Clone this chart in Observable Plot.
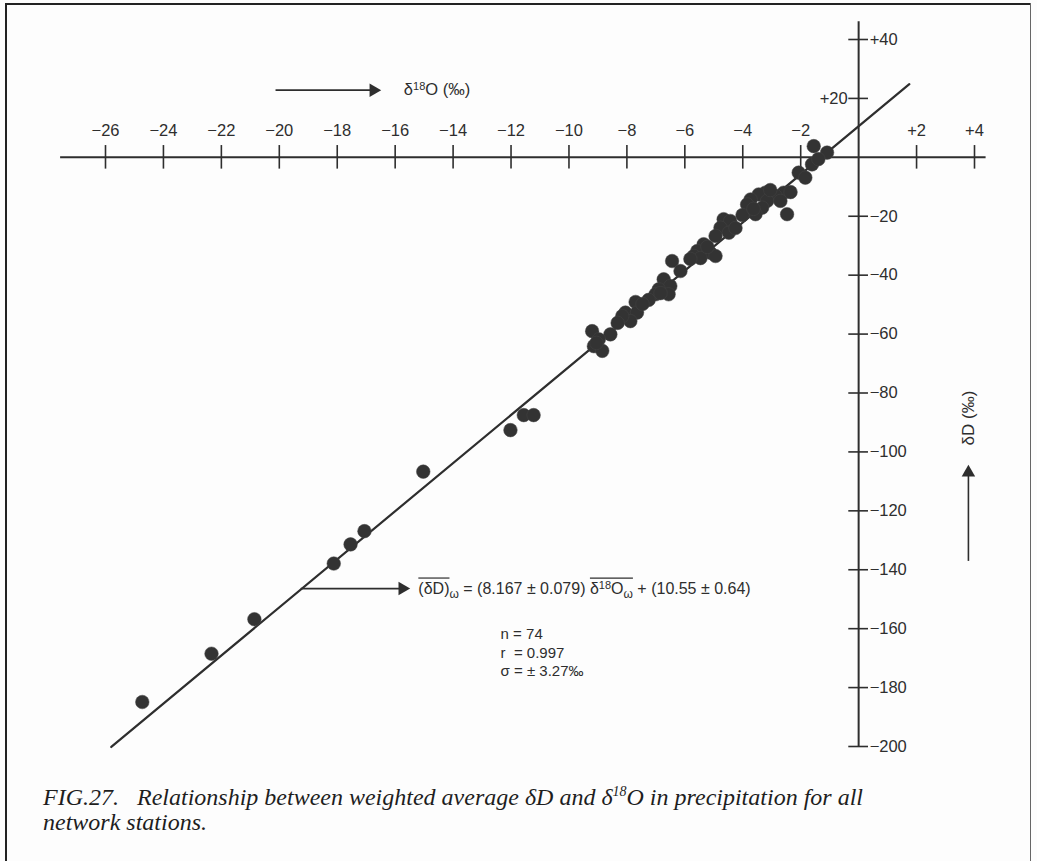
<!DOCTYPE html>
<html>
<head>
<meta charset="utf-8">
<script src="https://cdn.jsdelivr.net/npm/d3@7"></script>
<script src="https://cdn.jsdelivr.net/npm/@observablehq/plot@0.6"></script>
<style>
  html, body { margin: 0; padding: 0; background: #ffffff; }
  #page { position: relative; width: 1037px; height: 861px; overflow: hidden; background: #fdfdfd; }
  #chart { position: absolute; left: 0; top: 0; }
  .bT { position: absolute; left: 5px; top: 3px; width: 1026px; height: 2px; background: #222; }
  .bL { position: absolute; left: 5px; top: 3px; width: 2px; height: 858px; background: #222; }
  .bR { position: absolute; left: 1030px; top: 3px; width: 1px; height: 858px; background: #666; }
  #caption { position: absolute; left: 43px; top: 785px; width: 985px;
    font-family: "Liberation Serif", "DejaVu Serif", serif; font-style: italic;
    font-size: 24px; line-height: 25px; color: #1e1e1e; }
  #caption sup { font-size: 14px; line-height: 0; vertical-align: 9px; }
</style>
</head>
<body>
<div id="page">
  <div id="chart"></div>
  <div class="bT"></div><div class="bL"></div><div class="bR"></div>
  <div id="caption">FIG.27.&nbsp;&nbsp; Relationship between weighted average δD and δ<sup>18</sup>O in precipitation for all<br>network stations.</div>
</div>
<script>
// ---- Data ----
const d18O = [
  -1.55, -1.09, -1.61, -2.07, -1.84, -2.59, -3.22, -3.45, -2.87, -3.73,
  -3.16, -2.70, -3.85, -3.33, -3.56, -2.47, -4.01, -4.66, -4.43, -4.77,
  -4.48, -4.94, -5.35, -5.57, -5.12, -5.69, -4.94, -5.46, -6.44, -6.15,
  -6.73, -6.50, -6.90, -7.01, -6.56, -7.25, -7.70, -8.05, -7.65, -7.88,
  -8.16, -8.57, -9.20, -8.97, -9.14, -8.85,
  -3.05, -2.35, -3.63, -4.25, -5.22, -5.81, -6.84, -7.46, -8.32, -9.05, -1.39,
  -24.73, -22.34, -20.86, -18.12, -17.54, -17.06, -15.03, -12.02, -11.56, -11.22
];
const dD = [
  3.8, 1.6, -2.4, -5.2, -6.9, -12.0, -12.0, -12.6, -13.1, -14.3,
  -14.8, -14.8, -16.0, -17.1, -19.3, -19.3, -19.6, -21.0, -21.6, -23.9,
  -25.6, -26.7, -29.5, -31.8, -32.4, -33.5, -33.5, -34.2, -35.2, -38.6,
  -41.4, -43.7, -44.8, -46.5, -46.5, -48.4, -49.1, -52.7, -52.7, -55.6,
  -53.9, -60.1, -59.0, -61.8, -64.1, -65.7,
  -11.1, -11.8, -17.5, -24.0, -30.4, -34.5, -46.1, -49.8, -56.2, -63.0, -0.6,
  -184.9, -168.5, -156.8, -137.9, -131.4, -126.9, -106.7, -92.6, -87.5, -87.5
];
const xTicks = [-26, -24, -22, -20, -18, -16, -14, -12, -10, -8, -6, -4, -2, 2, 4];
const yTicks = [40, 20, -20, -40, -60, -80, -100, -120, -140, -160, -180, -200];
const yTicksLeft = [20];   // label placed left of the axis (the fit line passes on the right)
const fitSlope = 8.167, fitIntercept = 10.55;
const fitRange = [-25.8, 1.75];
const xAxisExtent = [-27.55, 4.4];
const yAxisExtent = [-200, 46];

// ---- Derived tables ----
const points = d18O.map((x, i) => ({x, y: dD[i]}));
const fitLine = fitRange.map(x => ({x, y: fitSlope * x + fitIntercept}));
const fmt = d => d > 0 ? "+" + d : "\u2212" + Math.abs(d);

const ink = "#2e2e2e";
const sans = "'Liberation Sans', Arial, Helvetica, sans-serif";

// annotation anchors (data units)
const arrows = [
  {x1: -20.13, y1: 22.8, x2: -16.75, y2: 22.8, rot: 90},
  {x1: -19.26, y1: -146.4, x2: -15.75, y2: -146.4, rot: 90},
  {x1: 3.79, y1: -137.0, x2: 3.79, y2: -107.0, rot: 0}
];
const stats = [
  {x: -12.36, y: -161.8, t: "n = 74"},
  {x: -12.36, y: -168.3, t: "r  = 0.997"},
  {x: -12.36, y: -174.4, t: "\u03c3 = \u00b1 3.27\u2030"}
];

const chart = Plot.plot({
  width: 1037,
  height: 770,
  marginLeft: 105,
  marginRight: 63,
  marginTop: 39,
  marginBottom: 24,
  x: {domain: [-26, 4], axis: null},
  y: {domain: [-200, 40], axis: null},
  style: {background: "transparent", overflow: "visible", fontFamily: sans, color: ink},
  marks: [
    // axes
    Plot.ruleY([0], {x1: xAxisExtent[0], x2: xAxisExtent[1], stroke: ink, strokeWidth: 2}),
    Plot.ruleX([0], {y1: yAxisExtent[0], y2: yAxisExtent[1], stroke: ink, strokeWidth: 2}),
    Plot.ruleX(xTicks, {x: d => d, y1: -4, y2: 4, stroke: ink, strokeWidth: 1.6}),
    Plot.ruleY(yTicks, {y: d => d, x1: -0.34, x2: 0.34, stroke: ink, strokeWidth: 1.6}),
    Plot.text(xTicks, {x: d => d, y: 0, dy: -27, text: fmt, fontSize: 16.5, fill: ink, textAnchor: "middle"}),
    Plot.text(yTicks.filter(d => !yTicksLeft.includes(d)), {x: 0, y: d => d, dx: 11, text: fmt, fontSize: 16.5, fill: ink, textAnchor: "start"}),
    Plot.text(yTicksLeft, {x: 0, y: d => d, dx: -11, text: fmt, fontSize: 16.5, fill: ink, textAnchor: "end"}),
    // fit line and data
    Plot.line(fitLine, {x: "x", y: "y", stroke: ink, strokeWidth: 2.2}),
    Plot.dot(points, {x: "x", y: "y", r: 6.8, fill: "#333", stroke: "#444", strokeWidth: 0.5}),
    // annotation arrows
    Plot.link(arrows, {x1: "x1", y1: "y1", x2: "x2", y2: "y2", stroke: ink, strokeWidth: 1.6}),
    Plot.dot(arrows, {x: "x2", y: "y2", symbol: "triangle", r: 5, fill: ink, rotate: "rot"}),
    // axis titles
    Plot.text([{x: -15.7, y: 22.8}], {x: "x", y: "y", text: () => "d18O", fontSize: 16.5, fill: ink, textAnchor: "start", className: "xlab"}),
    Plot.text([{x: 3.79, y: -88.5}], {x: "x", y: "y", text: () => "\u03b4D (\u2030)", fontSize: 17, fill: ink, rotate: -90}),
    // equation and statistics
    Plot.text([{x: -15.2, y: -146.4}], {x: "x", y: "y", text: () => "eq", fontSize: 16, fill: ink, textAnchor: "start", className: "eq"}),
    Plot.text(stats, {x: "x", y: "y", text: "t", fontSize: 15, fill: ink, textAnchor: "start"})
  ]
});
document.getElementById("chart").appendChild(chart);

// rich text (super/subscripts, overlines) inside the Plot text marks
function rich(sel, parts, fontSize) {
  const t = d3.select(chart).select(sel + " text");
  t.text(null);
  let base = 0;
  const spans = [];
  for (const p of parts) {
    const s = t.append("tspan").text(p.t);
    const shift = p.shift || 0;
    s.attr("dy", shift - base);
    base = shift;
    if (p.size) s.attr("font-size", p.size);
    spans.push({s, p});
  }
  // overlines drawn as lines from the glyph positions
  const groups = [];
  let cur = null;
  for (const {s, p} of spans) {
    if (p.over) { if (!cur) { cur = []; groups.push(cur); } cur.push(s.node()); }
    else cur = null;
  }
  const node = t.node();
  const baseY = spans[0].s.node().getStartPositionOfChar(0).y;
  for (const g of groups) {
    const a = g[0], b = g[g.length - 1];
    const x1 = a.getStartPositionOfChar(0).x;
    const x2 = b.getEndPositionOfChar(b.getNumberOfChars() - 1).x;
    const y = baseY - fontSize * 0.98;
    d3.select(node.parentNode).append("line")
      .attr("transform", node.getAttribute("transform"))
      .attr("x1", x1).attr("x2", x2).attr("y1", y).attr("y2", y)
      .attr("stroke", ink).attr("stroke-width", 1.2);
  }
}
rich(".xlab", [{t: "\u03b4"}, {t: "18", shift: -5, size: 11}, {t: "O (\u2030)"}], 16.5);
rich(".eq", [
  {t: "(\u03b4D)", over: true},
  {t: "\u03c9", shift: 4, size: 12},
  {t: " = (8.167 \u00b1 0.079) "},
  {t: "\u03b4", over: true},
  {t: "18", shift: -5, size: 11, over: true},
  {t: "O", over: true},
  {t: "\u03c9", shift: 4, size: 12, over: true},
  {t: " + (10.55 \u00b1 0.64)"}
], 16);
</script>
</body>
</html>
